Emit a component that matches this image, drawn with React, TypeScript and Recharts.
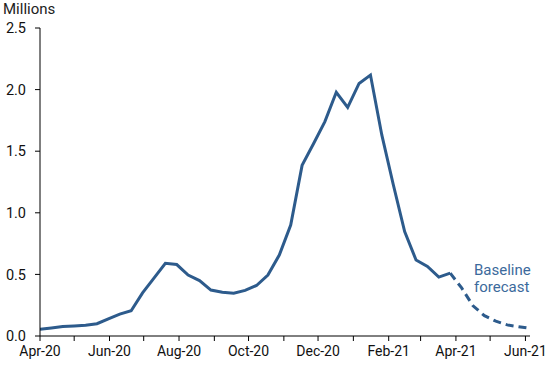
import React from 'react';
import { LineChart, Line, XAxis, YAxis } from 'recharts';

// day offsets from 1 Apr 2020, one point every 10 days
const dayOffsets: number[] = [
  0, 10, 20, 30, 40, 50, 60, 70, 80, 90, 100, 110, 120, 130, 140, 150, 160, 170, 180, 190,
  200, 210, 220, 230, 240, 250, 260, 270, 280, 290, 300, 310, 320, 330, 340, 350, 360,
  370, 380, 390, 400, 410, 420, 430,
];
const actualValues: (number | null)[] = [
  0.055, 0.065, 0.077, 0.082, 0.088, 0.1, 0.14, 0.178, 0.205, 0.35, 0.47, 0.59, 0.58, 0.495,
  0.45, 0.373, 0.355, 0.347, 0.37, 0.41, 0.495, 0.657, 0.9, 1.385, 1.56, 1.74, 1.978, 1.856,
  2.05, 2.118, 1.63, 1.23, 0.847, 0.617, 0.565, 0.478, 0.51,
  null, null, null, null, null, null, null,
];
const forecastValues: (number | null)[] = [
  null, null, null, null, null, null, null, null, null, null, null, null, null, null, null,
  null, null, null, null, null, null, null, null, null, null, null, null, null, null, null,
  null, null, null, null, null, null, 0.51,
  0.39, 0.245, 0.165, 0.12, 0.09, 0.075, 0.062,
];
const monthTicks: number[] = [0, 30, 61, 91, 122, 153, 183, 214, 244, 275, 306, 334, 365, 395, 426];
const monthLabels: Record<number, string> = {
  0: 'Apr-20', 61: 'Jun-20', 122: 'Aug-20', 183: 'Oct-20', 244: 'Dec-20', 306: 'Feb-21', 365: 'Apr-21', 426: 'Jun-21',
};
const yTicks: number[] = [0, 0.5, 1, 1.5, 2, 2.5];

const data = dayOffsets.map((d, i) => ({ day: d, actual: actualValues[i], forecast: forecastValues[i] }));

const LINE = '#2d5b8c';
const FONT = 'Roboto, sans-serif';

export default function App() {
  return (
    <div style={{ position: 'absolute', left: 0, top: 0, width: 550, height: 365, background: '#fff', fontFamily: FONT }}>
      <LineChart width={550} height={365} data={data} margin={{ top: 28, right: 20, bottom: 4, left: 0 }}>
        <XAxis
          dataKey="day"
          type="number"
          domain={[0, 430]}
          ticks={monthTicks}
          tickFormatter={(v: number) => monthLabels[v] || ''}
          interval={0}
          height={25}
          tickSize={5}
          tickMargin={5}
          tick={{ fill: '#111', fontSize: 14, fontFamily: FONT }}
          axisLine={{ stroke: '#000', strokeWidth: 1 }}
          tickLine={{ stroke: '#000' }}
          allowDataOverflow
        />
        <YAxis
          type="number"
          domain={[0, 2.5]}
          ticks={yTicks}
          tickFormatter={(v: number) => v.toFixed(1)}
          width={40}
          tickSize={5}
          tickMargin={9}
          tick={{ fill: '#111', fontSize: 14.5, fontFamily: FONT }}
          axisLine={{ stroke: '#000', strokeWidth: 1 }}
          tickLine={{ stroke: '#000' }}
        />
        <Line dataKey="actual" stroke={LINE} strokeWidth={3} dot={false} isAnimationActive={false} connectNulls={false} strokeLinejoin="miter" />
        <Line dataKey="forecast" stroke={LINE} strokeWidth={3} strokeDasharray="8 5" dot={false} isAnimationActive={false} connectNulls={false} />
      </LineChart>
      <div style={{ position: 'absolute', left: 3, top: 0, fontSize: 15, color: '#222', fontFamily: FONT }}>Millions</div>
      <div style={{ position: 'absolute', left: 474, top: 262, fontSize: 15, lineHeight: '16.5px', color: '#3c6a9c', fontFamily: FONT }}>
        Baseline<br />forecast
      </div>
    </div>
  );
}
